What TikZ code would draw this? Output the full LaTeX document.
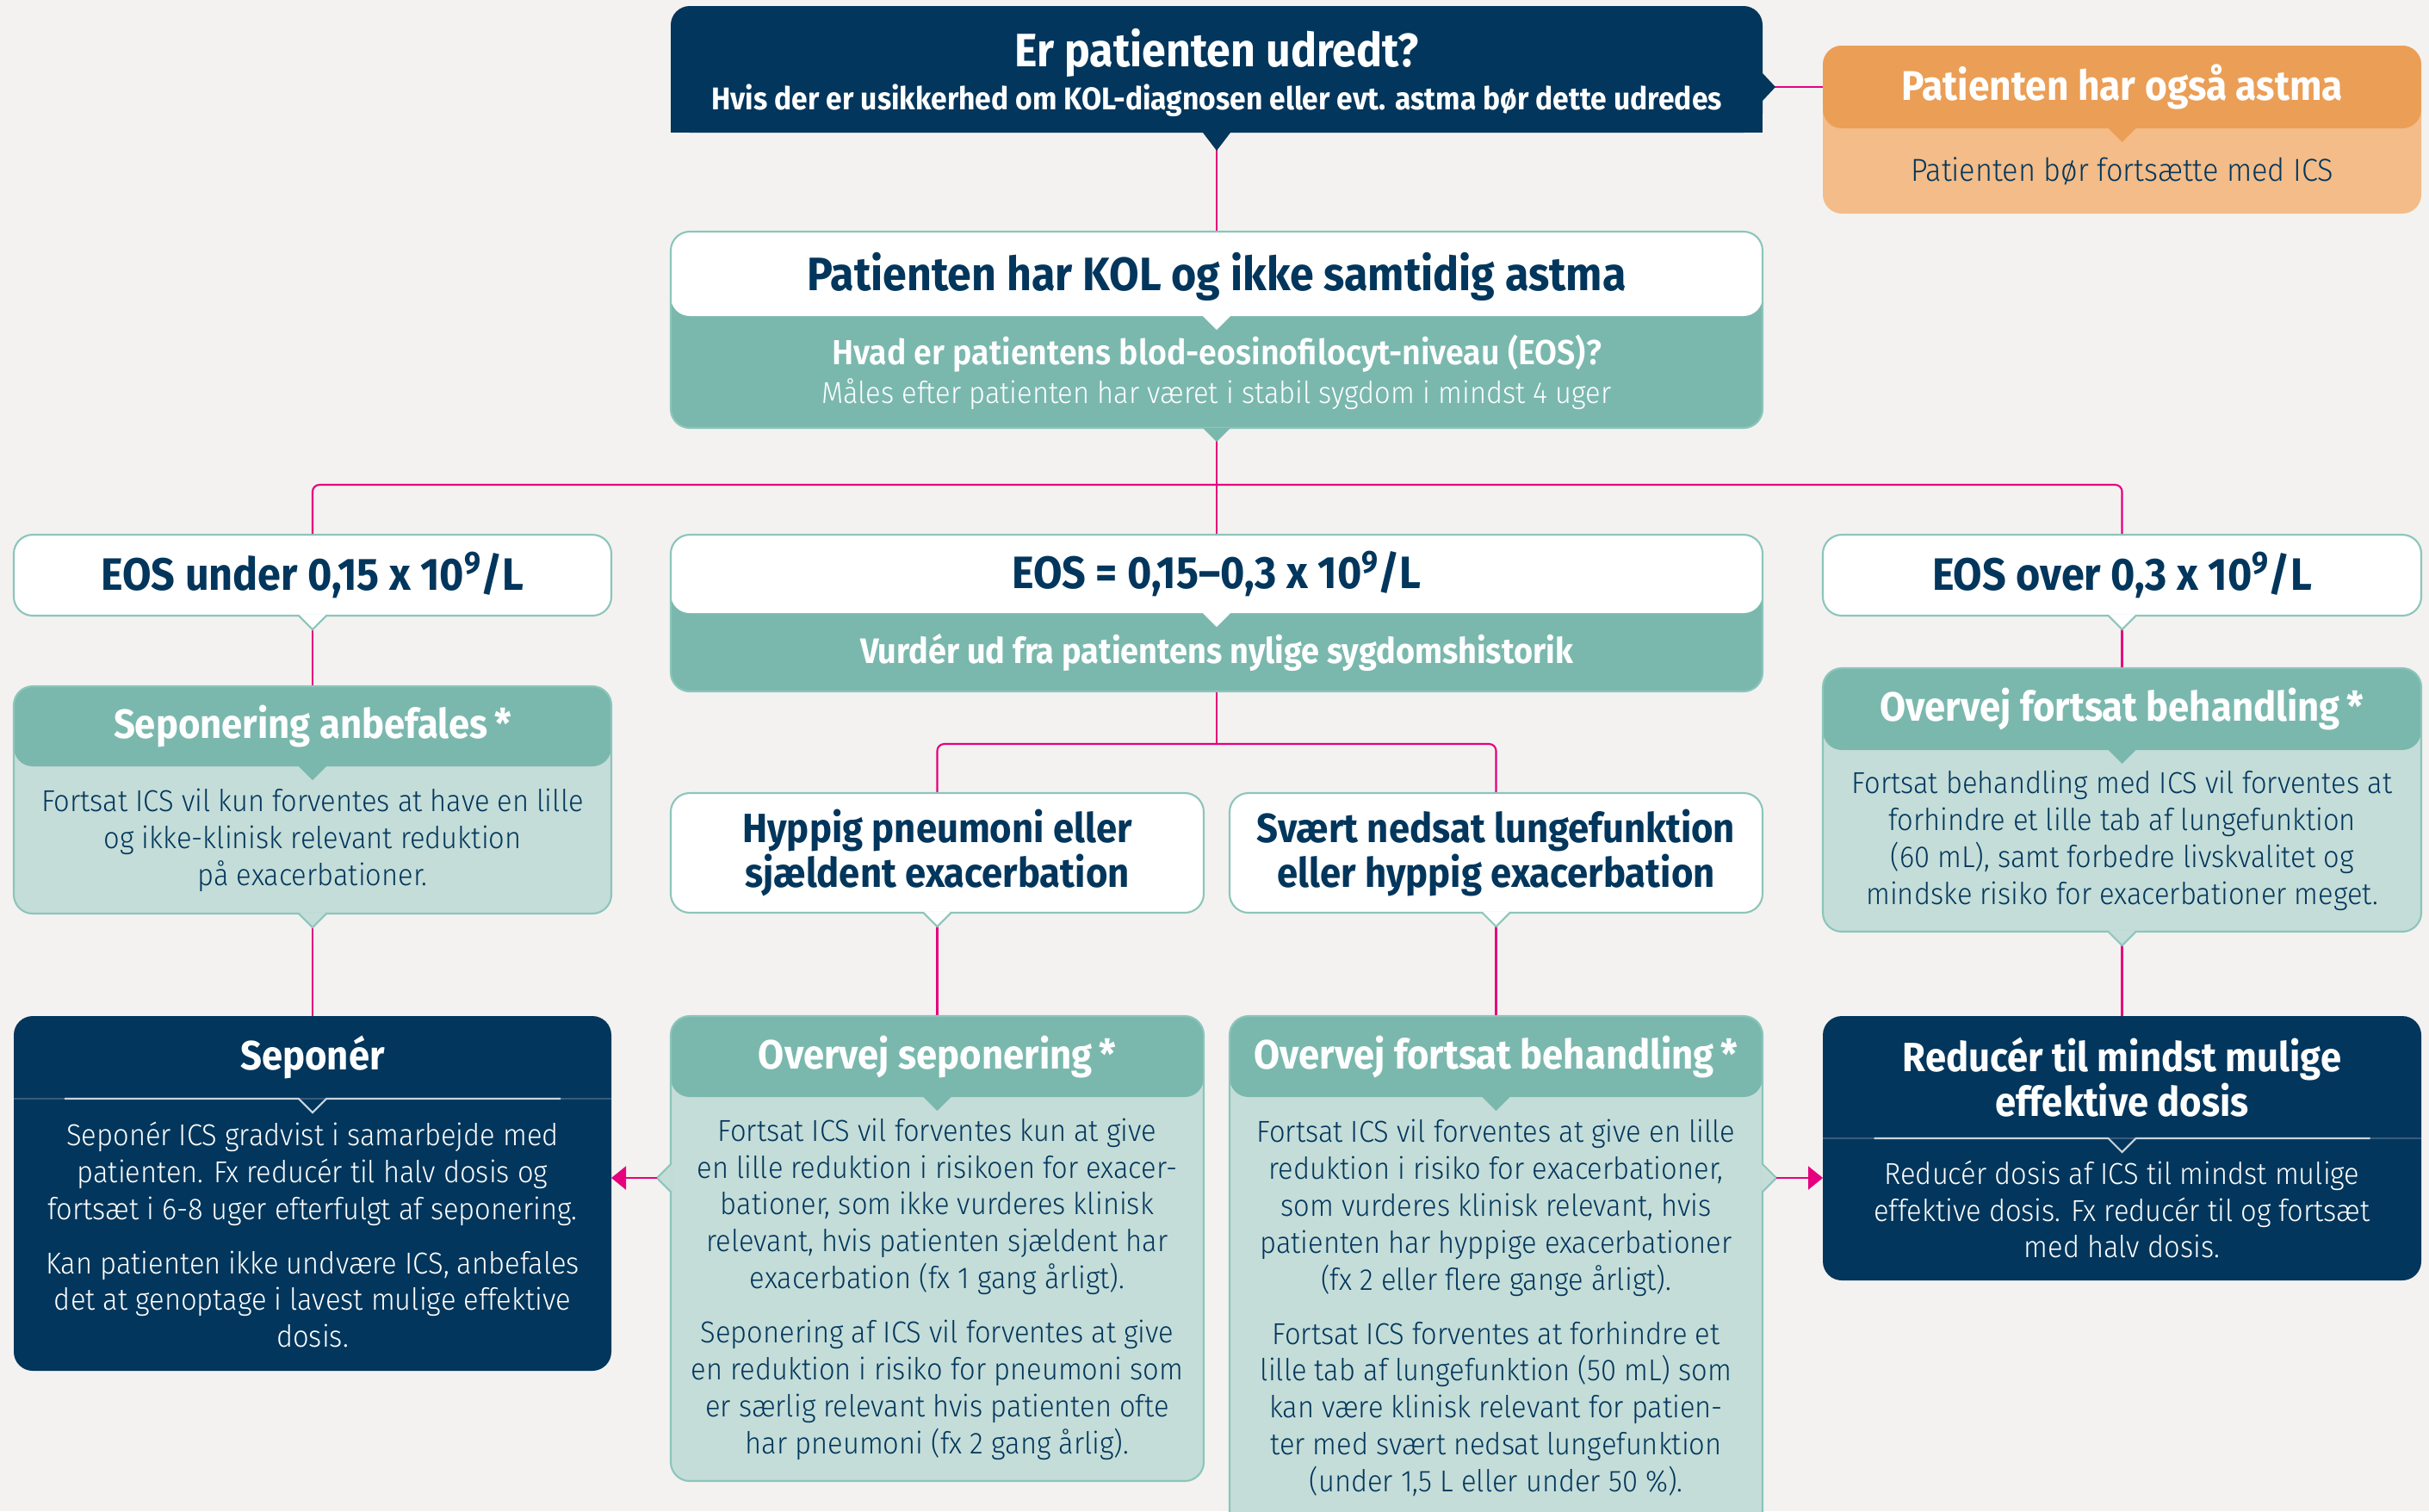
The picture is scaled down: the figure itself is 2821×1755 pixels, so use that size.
\documentclass[tikz,border=0pt]{standalone}
\usepackage{fontspec}
\setmainfont[FakeStretch=0.92]{Fira Sans}
\newfontfamily\thinfont[FakeStretch=0.93]{Fira Sans Light}
\usepackage{tikz}
\usetikzlibrary{arrows.meta,calc,positioning}

\definecolor{kolnavy}{HTML}{02365C}
\definecolor{kolteal}{HTML}{7AB8AE}
\definecolor{kolmint}{HTML}{C4DDD8}
\definecolor{koledge}{HTML}{8CC5BB}
\definecolor{kolorange}{HTML}{EB9E56}
\definecolor{kolapricot}{HTML}{F3BC88}
\definecolor{kolpink}{HTML}{E6007E}
\definecolor{kolpaper}{HTML}{F3F2F0}
\definecolor{kolfaint}{HTML}{3A5C7E}
\definecolor{kolhair}{HTML}{C9D5DF}

\pgfdeclarelayer{paper}
\pgfdeclarelayer{wires}
\pgfsetlayers{paper,wires,main}

\newcommand\tennine{10\textsuperscript{9}\kern-0.5pt/L}

\tikzset{
	card/.style 2 args={rectangle, rounded corners=2.2mm, minimum width=#1, minimum height=#2,
		inner sep=0pt, outer sep=0pt, anchor=north west, align=center},
	edged/.style={draw=koledge, line width=0.6pt},
	headfill/.style 2 args={path picture={\fill[#1] ([yshift=2pt]path picture bounding box.north west)
		rectangle ([yshift=-#2]path picture bounding box.north east);}},
	panel/.style 2 args={minimum width=#1, minimum height=#2, inner sep=0pt, outer sep=0pt,
		anchor=north, align=center},
	bigtitle/.style={font=\bfseries\fontsize{15.5}{18}\selectfont},
	eoshead/.style={font=\bfseries\fontsize{15}{18}\selectfont},
	cardhead/.style={font=\bfseries\fontsize{13.5}{12.2}\selectfont},
	cardbody/.style={font=\thinfont\fontsize{10}{12.2}\selectfont},
	wire/.style={draw=kolpink, line width=0.6pt},
	arrowed/.style={-{Triangle[length=1.7mm,width=2.7mm]}},
	notch/.pic={\fill[pic actions] (-1.6mm,0) -- (0,-#1) -- (1.6mm,0) -- cycle;},
	bnotch/.pic={%
		\path[pic actions, draw=none] (-1.6mm,0.4pt) -- (0,-1.6mm) -- (1.6mm,0.4pt) -- cycle;
		\path[pic actions, fill=none] (-1.6mm,0) -- (0,-1.6mm) -- (1.6mm,0);},
	vline/.pic={\draw[pic actions] (-#1,0) -- (-1.6mm,0) -- (0,-1.6mm) -- (1.6mm,0) -- (#1,0);},
}

\begin{document}
\begin{tikzpicture}[x=0.1mm, y=-0.1mm]
   \begin{pgfonlayer}{paper}
      \fill[kolpaper] (0,0) rectangle (2821,1755);
   \end{pgfonlayer}
   \useasboundingbox (0,0) rectangle (2821,1755);

   % question on top
   \node[card={126.8mm}{14.7mm}, fill=kolnavy] (topBox) at (779,7) {};
   \fill[kolnavy] ([yshift=4mm]topBox.south west) rectangle (topBox.south east);
   \node[bigtitle, text=white] (topHead) at (1413,61) {Er patienten udredt?};
   \node[font=\bfseries\fontsize{10.4}{12}\selectfont, text=white] (topSub) at (1413,117)
      {Hvis der er usikkerhed om KOL-diagnosen eller evt. astma bør dette udredes};
   \pic[fill=kolnavy] at (topBox.south) {notch=2.1mm};
   \coordinate (topSide) at ([yshift=-9.4mm]topBox.north east);
   \pic[fill=kolnavy, rotate=90] at (topSide) {notch=1.5mm};

   % astma
   \node[card={69.5mm}{19.5mm}, fill=kolapricot, headfill={kolorange}{9.6mm}] (astBox) at (2117,53) {};
   \node[panel={69.5mm}{9.6mm}, font=\bfseries\fontsize{13.7}{16}\selectfont, text=white] (astHead)
      at (astBox.north) {Patienten har også astma};
   \node[panel={69.5mm}{9.9mm}, font=\thinfont\fontsize{10.5}{12.6}\selectfont, text=kolnavy] (astText)
      at (astHead.south) {Patienten bør fortsætte med ICS};
   \pic[fill=kolorange] at (astHead.south) {notch=1.6mm};

   % KOL
   \node[card={126.8mm}{22.8mm}, fill=kolteal, headfill={white}{9.8mm}, edged] (kolBox) at (779,269) {};
   \node[panel={126.8mm}{10.4mm}, bigtitle, text=kolnavy] (kolHead) at (kolBox.north)
      {Patienten har KOL og ikke samtidig astma};
   \node[panel={126.8mm}{13mm}, font=\thinfont\fontsize{10}{12.8}\selectfont, text=white] (kolText)
      at ([yshift=-9.8mm]kolBox.north) {{\bfseries\fontsize{11.5}{12.8}\selectfont Hvad er patientens blod-eosinofilocyt-niveau (EOS)?}\\
      Måles efter patienten har været i stabil sygdom i mindst 4 uger};
   \pic[fill=white] at (kolText.north) {notch=1.6mm};
   \pic[fill=kolteal] at (kolBox.south) {notch=1.6mm};

   % EOS levels
   \node[card={69.4mm}{9.4mm}, edged, fill=white, eoshead, text=kolnavy] (eosLo) at (16,621)
      {EOS under 0,15 x \tennine};
   \pic[fill=white, draw=koledge, line width=0.6pt] at (eosLo.south) {bnotch};
   \node[card={126.8mm}{18.2mm}, fill=kolteal, headfill={white}{9.1mm}, edged] (eosMidBox) at (779,621) {};
   \node[panel={126.8mm}{9.1mm}, eoshead, text=kolnavy] (eosMidHead) at (eosMidBox.north)
      {EOS = 0,15–0,3 x \tennine};
   \node[panel={126.8mm}{9.1mm}, font=\bfseries\fontsize{11.7}{13}\selectfont, text=white] (eosMidText)
      at (eosMidHead.south) {Vurdér ud fra patientens nylige sygdomshistorik};
   \pic[fill=white] at (eosMidHead.south) {notch=1.6mm};
   \node[card={69.5mm}{9.4mm}, edged, fill=white, eoshead, text=kolnavy] (eosHi) at (2117,621)
      {EOS over 0,3 x \tennine};
   \pic[fill=white, draw=koledge, line width=0.6pt] at (eosHi.south) {bnotch};

   % low EOS
   \node[card={69.4mm}{26.4mm}, fill=kolmint, headfill={kolteal}{9.3mm}, edged] (sepAnbBox) at (16,797) {};
   \node[panel={69.4mm}{9.3mm}, cardhead, text=white] (sepAnbHead) at (sepAnbBox.north) {Seponering anbefales\,*};
   \node[panel={69.4mm}{17.1mm}, cardbody, text=kolnavy] (sepAnbText) at (sepAnbHead.south)
      {Fortsat ICS vil kun forventes at have en lille\\ og ikke-klinisk relevant reduktion\\ på exacerbationer.};
   \pic[fill=kolteal] at (sepAnbHead.south) {notch=1.6mm};
   \pic[fill=kolmint, draw=koledge, line width=0.6pt] at (sepAnbBox.south) {bnotch};

   % high EOS
   \node[card={69.5mm}{30.6mm}, fill=kolmint, headfill={kolteal}{9.5mm}, edged] (fortHiBox) at (2117,776) {};
   \node[panel={69.5mm}{9.5mm}, cardhead, text=white] (fortHiHead) at (fortHiBox.north) {Overvej fortsat behandling\,*};
   \node[panel={69.5mm}{21.1mm}, cardbody, text=kolnavy] (fortHiText) at (fortHiHead.south)
      {Fortsat behandling med ICS vil forventes at\\ forhindre et lille tab af lungefunktion\\
       (60 mL), samt forbedre livskvalitet og\\ mindske risiko for exacerbationer meget.};
   \pic[fill=kolteal] at (fortHiHead.south) {notch=1.6mm};
   \pic[fill=kolmint, draw=koledge, line width=0.6pt] at (fortHiBox.south) {bnotch};

   % history
   \node[card={61.9mm}{13.9mm}, edged, fill=white, font=\bfseries\fontsize{13.5}{12.8}\selectfont, text=kolnavy]
      (hyppig) at (779,921) {Hyppig pneumoni eller\\ sjældent exacerbation};
   \pic[fill=white, draw=koledge, line width=0.6pt] at (hyppig.south) {bnotch};
   \node[card={61.9mm}{13.9mm}, edged, fill=white, font=\bfseries\fontsize{13.5}{12.8}\selectfont, text=kolnavy]
      (svaert) at (1428,921) {Svært nedsat lungefunktion\\ eller hyppig exacerbation};
   \pic[fill=white, draw=koledge, line width=0.6pt] at (svaert.south) {bnotch};

   % outcomes
   \node[card={69.4mm}{41.2mm}, fill=kolnavy] (seponBox) at (16,1180) {};
   \node[panel={69.4mm}{9.6mm}, cardhead, text=white] (seponHead) at (seponBox.north) {Seponér};
   \draw[kolfaint, line width=0.5pt] (seponHead.south west) -- (seponHead.south east);
   \pic[draw=kolhair, line width=0.6pt] at (seponHead.south) {vline=28.8mm};
   \node[panel={69.4mm}{31.6mm}, cardbody, text=white] (seponText) at (seponHead.south)
      {Seponér ICS gradvist i samarbejde med\\ patienten. Fx reducér til halv dosis og\\
       fortsæt i 6-8 uger efterfulgt af seponering.\\[2mm]
       Kan patienten ikke undvære ICS, anbefales\\ det at genoptage i lavest mulige effektive\\ dosis.};

   \node[card={61.9mm}{54mm}, fill=kolmint, headfill={kolteal}{9.4mm}, edged] (ovSepBox) at (779,1180) {};
   \node[panel={61.9mm}{9.4mm}, cardhead, text=white] (ovSepHead) at (ovSepBox.north) {Overvej seponering\,*};
   \node[panel={61.9mm}{44.6mm}, cardbody, text=kolnavy] (ovSepText) at (ovSepHead.south)
      {Fortsat ICS vil forventes kun at give\\ en lille reduktion i risikoen for exacer-\\
       bationer, som ikke vurderes klinisk\\ relevant, hvis patienten sjældent har\\
       exacerbation (fx 1 gang årligt).\\[2mm]
       Seponering af ICS vil forventes at give\\ en reduktion i risiko for pneumoni som\\
       er særlig relevant hvis patienten ofte\\ har pneumoni (fx 2 gang årlig).};
   \pic[fill=kolteal] at (ovSepHead.south) {notch=1.6mm};
   \coordinate (ovSepSide) at ([yshift=-18.8mm]ovSepBox.north west);
   \pic[fill=kolmint, draw=koledge, line width=0.6pt, rotate=-90] at (ovSepSide) {bnotch};

   \node[card={61.9mm}{61mm}, fill=kolmint, headfill={kolteal}{9.4mm}, edged] (ovFortBox) at (1428,1180) {};
   \node[panel={61.9mm}{9.4mm}, cardhead, text=white] (ovFortHead) at (ovFortBox.north) {Overvej fortsat behandling\,*};
   \node[panel={61.9mm}{49mm}, cardbody, text=kolnavy] (ovFortText) at (ovFortHead.south)
      {Fortsat ICS vil forventes at give en lille\\ reduktion i risiko for exacerbationer,\\
       som vurderes klinisk relevant, hvis\\ patienten har hyppige exacerbationer\\
       (fx 2 eller flere gange årligt).\\[2mm]
       Fortsat ICS forventes at forhindre et\\ lille tab af lungefunktion (50 mL) som\\
       kan være klinisk relevant for patien-\\ ter med svært nedsat lungefunktion\\
       (under 1,5 L eller under 50 \%).};
   \pic[fill=kolteal] at (ovFortHead.south) {notch=1.6mm};
   \coordinate (ovFortSide) at ([yshift=-18.8mm]ovFortBox.north east);
   \pic[fill=kolmint, draw=koledge, line width=0.6pt, rotate=90] at (ovFortSide) {bnotch};

   \node[card={69.5mm}{30.7mm}, fill=kolnavy] (reducBox) at (2117,1180) {};
   \node[panel={69.5mm}{14.2mm}, cardhead, text=white] (reducHead) at (reducBox.north)
      {Reducér til mindst mulige\\ effektive dosis};
   \draw[kolfaint, line width=0.5pt] (reducHead.south west) -- (reducHead.south east);
   \pic[draw=kolhair, line width=0.6pt] at (reducHead.south) {vline=28.8mm};
   \node[panel={69.5mm}{16.5mm}, cardbody, text=white] (reducText) at (reducHead.south)
      {Reducér dosis af ICS til mindst mulige\\ effektive dosis. Fx reducér til og fortsæt\\ med halv dosis.};

   % connectors
   \coordinate (eosSplit) at (kolBox.south |- 0,563);
   \coordinate (histSplit) at (eosMidBox.south |- 0,864);
   \begin{pgfonlayer}{wires}
      \draw[wire] (topBox.south) -- (kolBox.north);
      \draw[wire] (topSide) -- (topSide -| astBox.west);
      \draw[wire] (kolBox.south) -- (eosMidBox.north);
      \draw[wire, rounded corners=0.8mm] (eosLo.north) |- (eosSplit) -| (eosHi.north);
      \draw[wire] (eosLo.south) -- (sepAnbBox.north);
      \draw[wire] (sepAnbBox.south) -- (seponBox.north);
      \draw[wire] (eosHi.south) -- (fortHiBox.north);
      \draw[wire] (fortHiBox.south) -- (reducBox.north);
      \draw[wire] (eosMidBox.south) -- (histSplit);
      \draw[wire, rounded corners=0.8mm] (hyppig.north) |- (histSplit) -| (svaert.north);
      \draw[wire] (hyppig.south) -- (ovSepBox.north);
      \draw[wire] (svaert.south) -- (ovFortBox.north);
   \end{pgfonlayer}
   \draw[wire, arrowed] ([xshift=-1.6mm]ovSepSide) -- (ovSepSide -| seponBox.east);
   \draw[wire, arrowed] ([xshift=1.6mm]ovFortSide) -- (ovFortSide -| reducBox.west);
\end{tikzpicture}
\end{document}
